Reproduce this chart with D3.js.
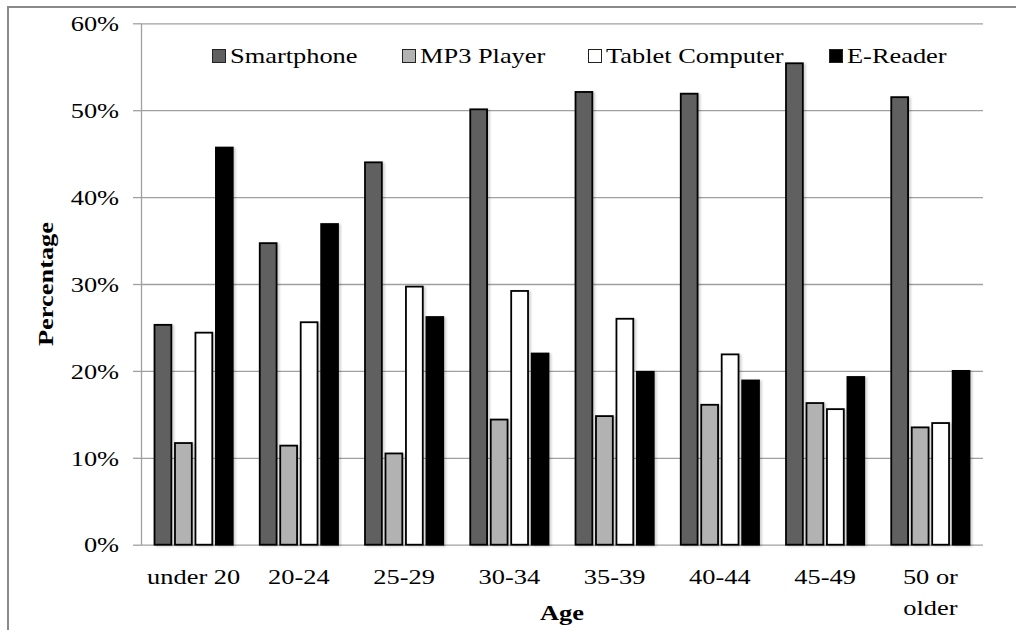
<!DOCTYPE html>
<html>
<head>
<meta charset="utf-8">
<script src="https://cdn.jsdelivr.net/npm/d3@7"></script>
<style>
  html, body { margin: 0; padding: 0; background: #fff; }
  svg { display: block; }
</style>
</head>
<body>
<svg id="chart" width="1016" height="630"></svg>
<script>
// ---- data ----
const categories = ["under 20", "20-24", "25-29", "30-34", "35-39", "40-44", "45-49", "50 or older"];
const categoryLabelLines = [["under 20"], ["20-24"], ["25-29"], ["30-34"], ["35-39"], ["40-44"], ["45-49"], ["50 or", "older"]];
const seriesNames = ["Smartphone", "MP3 Player", "Tablet Computer", "E-Reader"];
const smartphone = [25.3, 34.7, 44.0, 50.1, 52.1, 51.9, 55.4, 51.5];
const mp3Player  = [11.7, 11.4, 10.5, 14.4, 14.8, 16.1, 16.3, 13.5];
const tablet     = [24.4, 25.6, 29.7, 29.2, 26.0, 21.9, 15.6, 14.0];
const eReader    = [45.7, 36.9, 26.2, 22.0, 19.9, 18.9, 19.3, 20.0];
const yTicks = [0, 10, 20, 30, 40, 50, 60];
const xTitle = "Age";
const yTitle = "Percentage";

// ---- styles ----
const FONT = "Liberation Serif";
const colors = ["#606060", "#b2b2b2", "#ffffff", "#000000"];
const seriesValues = [smartphone, mp3Player, tablet, eReader];
const SX = 1.2; // horizontal text stretch as in the reference

const svg = d3.select("#chart");

// shadow filter
const defs = svg.append("defs");
const f = defs.append("filter").attr("id", "shadow").attr("x", "-30%").attr("y", "-5%").attr("width", "160%").attr("height", "110%");
f.append("feDropShadow").attr("dx", 2).attr("dy", 1).attr("stdDeviation", 1.2).attr("flood-color", "#000").attr("flood-opacity", 0.18);

// outer frame
svg.append("rect").attr("x", 8).attr("y", 7).attr("width", 1100).attr("height", 700)
  .attr("fill", "none").attr("stroke", "#8a8a8a").attr("stroke-width", 2);

const pLeft = 141, pRight = 983, pTop = 23.3, pBottom = 544.7;

const x0 = d3.scaleBand().domain(categories).range([pLeft, pRight]).paddingInner(0).paddingOuter(0);
const x1 = d3.scaleBand().domain(seriesNames).range([12.6, x0.bandwidth() - 12.6]).paddingInner(0.09).paddingOuter(0);
const y = d3.scaleLinear().domain([0, 60]).range([pBottom, pTop]);

// gridlines
const grid = svg.append("g").attr("transform", `translate(${pLeft},0)`)
  .call(d3.axisLeft(y).tickValues(yTicks).tickSize(-(pRight - pLeft)).tickFormat(""));
grid.select(".domain").remove();
grid.selectAll("line").attr("stroke", "#a0a0a0").attr("stroke-width", 1.3);

// y axis with outer ticks & labels
const yAxis = svg.append("g").attr("transform", `translate(${pLeft},0)`)
  .call(d3.axisLeft(y).tickValues(yTicks).tickSize(8).tickSizeOuter(0).tickFormat(d => d + "%"));
yAxis.select(".domain").attr("stroke", "#a0a0a0").attr("stroke-width", 1.3);
yAxis.selectAll(".tick line").attr("stroke", "#a0a0a0").attr("stroke-width", 1.3);
yAxis.selectAll(".tick text")
  .style("font-family", FONT)
  .attr("font-size", 22)
  .attr("fill", "#000")
  .attr("x", -18.3)
  .attr("dy", "0.33em")
  .attr("transform", `scale(${SX},1)`);

// bars
const groups = svg.append("g").selectAll("g").data(categories).join("g")
  .attr("transform", d => `translate(${x0(d)},0)`);
groups.selectAll("rect")
  .data((d, i) => seriesNames.map((s, j) => ({ s, j, v: seriesValues[j][i] })))
  .join("rect")
  .attr("x", d => x1(d.s) + 0.9)
  .attr("width", x1.bandwidth() - 1.8)
  .attr("y", d => y(d.v))
  .attr("height", d => y(0) - y(d.v))
  .attr("fill", d => colors[d.j])
  .attr("stroke", "#000")
  .attr("stroke-width", 1.8)
  .attr("filter", "url(#shadow)");

// category labels
categories.forEach((c, i) => {
  const cx = x0(c) + x0.bandwidth() / 2;
  const lines = categoryLabelLines[i];
  lines.forEach((ln, k) => {
    svg.append("text")
      .attr("transform", `translate(${cx},${584.3 + k * 31}) scale(${SX},1)`)
      .attr("text-anchor", "middle")
      .attr("font-size", 22)
      .style("font-family", FONT)
      .text(ln);
  });
});

// axis titles
svg.append("text")
  .attr("transform", `translate(${(pLeft + pRight) / 2},620) scale(${SX},1)`)
  .attr("text-anchor", "middle").attr("font-size", 22).attr("font-weight", "bold")
  .style("font-family", FONT)
  .text(xTitle);
svg.append("text")
  .attr("transform", `translate(53,${(pTop + pBottom) / 2}) rotate(-90) scale(${SX},1)`)
  .attr("text-anchor", "middle").attr("font-size", 22).attr("font-weight", "bold")
  .style("font-family", FONT)
  .text(yTitle);

// legend
const legendX = [212, 402, 588, 829];
const legend = svg.append("g");
seriesNames.forEach((s, i) => {
  const g = legend.append("g").attr("transform", `translate(${legendX[i]},0)`);
  g.append("rect").attr("x", 0.5).attr("y", 49.5).attr("width", 13).attr("height", 13)
    .attr("fill", colors[i]).attr("stroke", "#222").attr("stroke-width", 1);
  g.append("text").attr("transform", `translate(18,63.3) scale(${SX},1)`)
    .attr("font-size", 22).style("font-family", FONT).text(s);
});
</script>
</body>
</html>
